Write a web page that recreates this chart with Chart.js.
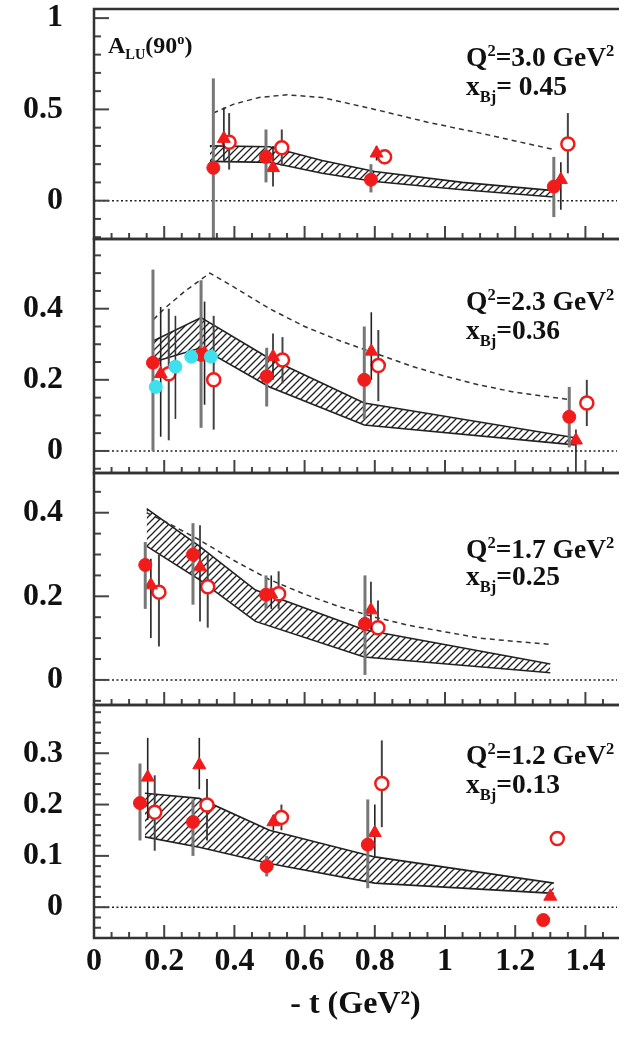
<!DOCTYPE html>
<html>
<head>
<meta charset="utf-8">
<script src="https://cdn.jsdelivr.net/npm/chart.js@4.4.1/dist/chart.umd.min.js"></script>
<style>
  html, body { margin: 0; padding: 0; background: #fff; }
  canvas { display: block; }
</style>
</head>
<body>
<canvas id="alu" width="626" height="1037"></canvas>
<script>
// x axis: -t (GeV^2)
const xTicks = [0, 0.2, 0.4, 0.6, 0.8, 1, 1.2, 1.4];
const xTickLabels = ['0', '0.2', '0.4', '0.6', '0.8', '1', '1.2', '1.4'];
const xMax = 1.49;

// y ranges of the four panels (top to bottom)
const yMin = [-0.21, -0.062, -0.06, -0.06];
const yMax = [1.05, 0.596, 0.495, 0.394];
const yMajor = [0.5, 0.2, 0.2, 0.1];
const yMinor = [0.1, 0.05, 0.05, 0.02];
const panelWeight = [230, 234, 232, 233];

// panel labels
const qLabels = ['3.0', '2.3', '1.7', '1.2'];
const xbjLabels = ['= 0.45', '=0.36', '=0.25', '=0.13'];

// ---- panel 1 : Q2 = 3.0, xBj = 0.45
const p1CircT = [0.34, 0.49, 0.789, 1.31];
const p1CircA = [0.18, 0.24, 0.115, 0.077];
const p1CircHi = [0.67, 0.39, 0.20, 0.24];
const p1CircLo = [-0.30, 0.10, 0.045, -0.09];
const p1TriT = [0.37, 0.51, 0.805, 1.33];
const p1TriA = [0.34, 0.18, 0.26, 0.115];
const p1TriHi = [0.51, 0.30, 0.30, 0.21];
const p1TriLo = [0.22, 0.077, 0.22, -0.05];
const p1OpenT = [0.385, 0.535, 0.828, 1.35];
const p1OpenA = [0.32, 0.29, 0.24, 0.31];
const p1OpenHi = [0.48, 0.39, 0.28, 0.48];
const p1OpenLo = [0.17, 0.19, 0.20, 0.15];
const p1BandT = [0.33, 0.5, 0.65, 0.8, 1.05, 1.31];
const p1BandHi = [0.30, 0.295, 0.22, 0.16, 0.10, 0.055];
const p1BandLo = [0.215, 0.21, 0.15, 0.105, 0.06, 0.02];
const p1ModelT = [0.34, 0.4, 0.47, 0.55, 0.65, 0.8, 0.95, 1.1, 1.31];
const p1ModelA = [0.48, 0.53, 0.565, 0.58, 0.565, 0.50, 0.43, 0.37, 0.28];

// ---- panel 2 : Q2 = 2.3, xBj = 0.36
const p2CircT = [0.168, 0.305, 0.492, 0.77, 1.354];
const p2CircA = [0.248, 0.27, 0.21, 0.20, 0.096];
const p2CircHi = [0.51, 0.48, 0.29, 0.35, 0.18];
const p2CircLo = [0.0, 0.065, 0.125, 0.09, 0.01];
const p2TriT = [0.19, 0.315, 0.51, 0.79, 1.373];
const p2TriA = [0.217, 0.275, 0.265, 0.28, 0.03];
const p2TriHi = [0.405, 0.42, 0.33, 0.39, 0.06];
const p2TriLo = [0.04, 0.13, 0.20, 0.20, -0.07];
const p2OpenT = [0.213, 0.341, 0.537, 0.81, 1.404];
const p2OpenA = [0.217, 0.20, 0.256, 0.24, 0.135];
const p2OpenHi = [0.40, 0.38, 0.32, 0.34, 0.20];
const p2OpenLo = [0.03, 0.06, 0.19, 0.14, 0.07];
const p2CyanT = [0.176, 0.232, 0.277, 0.333];
const p2CyanA = [0.18, 0.237, 0.265, 0.265];
const p2CyanHi = [0.18, 0.38, 0.265, 0.265];
const p2CyanLo = [0.18, 0.09, 0.265, 0.265];
const p2BandT = [0.17, 0.305, 0.5, 0.77, 1.37];
const p2BandHi = [0.31, 0.375, 0.26, 0.135, 0.037];
const p2BandLo = [0.25, 0.29, 0.18, 0.073, 0.017];
const p2ModelT = [0.17, 0.2, 0.26, 0.33, 0.4, 0.5, 0.6, 0.7, 0.8, 0.9, 1.0, 1.1, 1.2, 1.35];
const p2ModelA = [0.37, 0.40, 0.45, 0.50, 0.46, 0.40, 0.35, 0.31, 0.275, 0.24, 0.21, 0.185, 0.165, 0.145];

// ---- panel 3 : Q2 = 1.7, xBj = 0.25
const p3CircT = [0.146, 0.282, 0.49, 0.772];
const p3CircA = [0.275, 0.30, 0.204, 0.134];
const p3CircHi = [0.33, 0.375, 0.25, 0.25];
const p3CircLo = [0.17, 0.18, 0.17, 0.012];
const p3TriT = [0.162, 0.302, 0.505, 0.789];
const p3TriA = [0.227, 0.27, 0.205, 0.167];
const p3TriHi = [0.29, 0.37, 0.25, 0.235];
const p3TriLo = [0.10, 0.14, 0.17, 0.12];
const p3OpenT = [0.185, 0.324, 0.526, 0.809];
const p3OpenA = [0.21, 0.223, 0.206, 0.125];
const p3OpenHi = [0.30, 0.30, 0.26, 0.19];
const p3OpenLo = [0.08, 0.125, 0.17, 0.11];
const p3BandT = [0.15, 0.3, 0.46, 0.77, 1.3];
const p3BandHi = [0.41, 0.32, 0.215, 0.12, 0.038];
const p3BandLo = [0.32, 0.24, 0.14, 0.055, 0.017];
const p3ModelT = [0.15, 0.2, 0.3, 0.4, 0.5, 0.6, 0.7, 0.8, 0.9, 1.0, 1.1, 1.2, 1.3];
const p3ModelA = [0.40, 0.38, 0.335, 0.285, 0.24, 0.205, 0.175, 0.15, 0.13, 0.115, 0.10, 0.092, 0.085];

// ---- panel 4 : Q2 = 1.2, xBj = 0.13
const p4CircT = [0.131, 0.282, 0.492, 0.78, 1.28];
const p4CircA = [0.203, 0.166, 0.08, 0.122, -0.025];
const p4CircHi = [0.28, 0.21, 0.10, 0.21, -0.025];
const p4CircLo = [0.13, 0.10, 0.06, 0.037, -0.025];
const p4TriT = [0.153, 0.30, 0.511, 0.80, 1.30];
const p4TriA = [0.253, 0.277, 0.166, 0.145, 0.021];
const p4TriHi = [0.33, 0.33, 0.18, 0.20, 0.021];
const p4TriLo = [0.17, 0.23, 0.15, 0.10, 0.021];
const p4OpenT = [0.173, 0.322, 0.534, 0.82, 1.32];
const p4OpenA = [0.185, 0.199, 0.175, 0.241, 0.134];
const p4OpenHi = [0.257, 0.25, 0.20, 0.325, 0.134];
const p4OpenLo = [0.11, 0.13, 0.15, 0.156, 0.134];
const p4BandT = [0.145, 0.3, 0.5, 0.8, 1.31];
const p4BandHi = [0.222, 0.212, 0.15, 0.098, 0.047];
const p4BandLo = [0.137, 0.117, 0.085, 0.047, 0.027];

const RED = '#f01c1c';
const CYAN = '#3ee0ee';
const INK = '#111';
const SERIF = '"Liberation Serif", "DejaVu Serif", serif';

function pts(xs, ys) {
    return xs.map((x, i) => ({ x: x, y: ys[i] }));
}

const ctx = document.getElementById('alu').getContext('2d');

// hatched fill for the model band
function makeHatch() {
    const c = document.createElement('canvas');
    c.width = 7; c.height = 7;
    const g = c.getContext('2d');
    g.strokeStyle = '#222';
    g.lineWidth = 1.3;
    g.beginPath();
    g.moveTo(0, 7); g.lineTo(7, 0);
    g.moveTo(-1, 1); g.lineTo(1, -1);
    g.moveTo(6, 8); g.lineTo(8, 6);
    g.stroke();
    return ctx.createPattern(c, 'repeat');
}
const hatchFill = makeHatch();

function markerSet(axis, t, a, lo, hi, kind) {
    const ds = { yAxisID: axis, data: pts(t, a), showLine: false, order: 1, errLo: lo, errHi: hi, pointHoverRadius: 0 };
    if (kind === 'full') Object.assign(ds, { pointStyle: 'circle', pointRadius: 6.5, backgroundColor: RED, borderColor: RED, borderWidth: 1, errColor: '#777', errWidth: 3 });
    if (kind === 'tri') Object.assign(ds, { pointStyle: 'triangle', pointRadius: 7.5, backgroundColor: RED, borderColor: RED, borderWidth: 1, errColor: '#222', errWidth: 1.6 });
    if (kind === 'open') Object.assign(ds, { pointStyle: 'circle', pointRadius: 6.5, backgroundColor: '#fff', borderColor: RED, borderWidth: 2.5, errColor: '#444', errWidth: 2 });
    if (kind === 'cyan') Object.assign(ds, { pointStyle: 'circle', pointRadius: 6.5, backgroundColor: CYAN, borderColor: CYAN, borderWidth: 1, errColor: '#333', errWidth: 1.6 });
    return ds;
}

function bandSets(axis, t, hi, lo) {
    return [
        { yAxisID: axis, data: pts(t, hi), fill: '+1', backgroundColor: hatchFill, borderColor: '#222', borderWidth: 1.6, pointRadius: 0, order: 3 },
        { yAxisID: axis, data: pts(t, lo), fill: false, borderColor: '#222', borderWidth: 1.6, pointRadius: 0, order: 3 }
    ];
}

function modelSet(axis, t, a) {
    return { yAxisID: axis, data: pts(t, a), fill: false, borderColor: '#333', borderWidth: 1.5, borderDash: [5, 4], pointRadius: 0, order: 2 };
}

const datasets = [
    markerSet('y1', p1CircT, p1CircA, p1CircLo, p1CircHi, 'full'),
    markerSet('y1', p1TriT, p1TriA, p1TriLo, p1TriHi, 'tri'),
    markerSet('y1', p1OpenT, p1OpenA, p1OpenLo, p1OpenHi, 'open'),
    modelSet('y1', p1ModelT, p1ModelA),
    ...bandSets('y1', p1BandT, p1BandHi, p1BandLo),

    markerSet('y2', p2CyanT, p2CyanA, p2CyanLo, p2CyanHi, 'cyan'),
    markerSet('y2', p2CircT, p2CircA, p2CircLo, p2CircHi, 'full'),
    markerSet('y2', p2TriT, p2TriA, p2TriLo, p2TriHi, 'tri'),
    markerSet('y2', p2OpenT, p2OpenA, p2OpenLo, p2OpenHi, 'open'),
    modelSet('y2', p2ModelT, p2ModelA),
    ...bandSets('y2', p2BandT, p2BandHi, p2BandLo),

    markerSet('y3', p3CircT, p3CircA, p3CircLo, p3CircHi, 'full'),
    markerSet('y3', p3TriT, p3TriA, p3TriLo, p3TriHi, 'tri'),
    markerSet('y3', p3OpenT, p3OpenA, p3OpenLo, p3OpenHi, 'open'),
    modelSet('y3', p3ModelT, p3ModelA),
    ...bandSets('y3', p3BandT, p3BandHi, p3BandLo),

    markerSet('y4', p4CircT, p4CircA, p4CircLo, p4CircHi, 'full'),
    markerSet('y4', p4TriT, p4TriA, p4TriLo, p4TriHi, 'tri'),
    markerSet('y4', p4OpenT, p4OpenA, p4OpenLo, p4OpenHi, 'open'),
    ...bandSets('y4', p4BandT, p4BandHi, p4BandLo)
];

// text with sub/superscripts
function rich(c, x, y, segs, size) {
    segs.forEach(s => {
        const small = s.sup || s.sub;
        c.font = 'bold ' + (small ? size * 0.6 : size) + 'px ' + SERIF;
        const dy = s.sup ? -size * 0.38 : (s.sub ? size * 0.25 : 0);
        c.fillText(s.t, x, y + dy);
        x += c.measureText(s.t).width;
    });
}

const labelX = 466;
const qOffset = [57, 71, 85, 59];
const xOffset = [86, 100, 112, 88];

const panelDecor = {
    id: 'panelDecor',
    beforeDatasetsDraw(chart) {
        const c = chart.ctx, area = chart.chartArea;
        c.save();
        c.strokeStyle = '#222';
        c.lineWidth = 1.5;
        c.setLineDash([2, 2.5]);
        for (let i = 1; i <= 4; i++) {
            const y = chart.scales['y' + i].getPixelForValue(0);
            c.beginPath();
            c.moveTo(area.left, y);
            c.lineTo(area.right, y);
            c.stroke();
        }
        c.restore();
    },
    beforeDatasetDraw(chart, args) {
        const ds = chart.data.datasets[args.index];
        if (!ds.errHi) return;
        const xs = args.meta.xScale, ys = args.meta.yScale, c = chart.ctx;
        c.save();
        c.beginPath();
        c.rect(chart.chartArea.left, ys.top, chart.chartArea.right - chart.chartArea.left, ys.bottom - ys.top);
        c.clip();
        c.strokeStyle = ds.errColor;
        c.lineWidth = ds.errWidth;
        ds.data.forEach((p, i) => {
            if (ds.errHi[i] === ds.errLo[i]) return;
            const x = xs.getPixelForValue(p.x);
            c.beginPath();
            c.moveTo(x, ys.getPixelForValue(ds.errHi[i]));
            c.lineTo(x, ys.getPixelForValue(ds.errLo[i]));
            c.stroke();
        });
        c.restore();
    },
    afterDraw(chart) {
        const c = chart.ctx, area = chart.chartArea, xs = chart.scales.x;
        c.save();
        for (let i = 0; i < 4; i++) {
            const ys = chart.scales['y' + (i + 1)];
            // inner tick marks, left edge
            c.strokeStyle = '#444';
            c.lineWidth = 2;
            const n0 = Math.ceil(yMin[i] / yMinor[i] - 1e-6);
            const n1 = Math.floor(yMax[i] / yMinor[i] + 1e-6);
            for (let n = n0; n <= n1; n++) {
                const v = n * yMinor[i];
                const r = v / yMajor[i];
                const major = Math.abs(r - Math.round(r)) < 1e-6;
                const y = ys.getPixelForValue(v);
                c.beginPath();
                c.moveTo(area.left, y);
                c.lineTo(area.left + (major ? 15 : 7), y);
                c.stroke();
            }
            // inner tick marks, bottom edge
            for (let n = 0; n * 0.05 <= xMax; n++) {
                const x = xs.getPixelForValue(n * 0.05);
                const len = n % 4 === 0 ? 13 : 6;
                c.beginPath();
                c.moveTo(x, ys.bottom);
                c.lineTo(x, ys.bottom - len);
                c.stroke();
            }
            // frame
            c.strokeStyle = '#333';
            c.lineWidth = 2.5;
            c.beginPath();
            c.moveTo(area.right + 2, ys.top);
            c.lineTo(area.left, ys.top);
            c.lineTo(area.left, ys.bottom);
            c.lineTo(area.right + 2, ys.bottom);
            c.stroke();

            // panel labels
            c.fillStyle = INK;
            c.textAlign = 'left';
            c.textBaseline = 'alphabetic';
            rich(c, labelX, ys.top + qOffset[i], [{ t: 'Q' }, { t: '2', sup: true }, { t: '=' + qLabels[i] + ' GeV' }, { t: '2', sup: true }], 27.5);
            rich(c, labelX, ys.top + xOffset[i], [{ t: 'x' }, { t: 'Bj', sub: true }, { t: xbjLabels[i] }], 27.5);
        }
        const top = chart.scales.y1;
        rich(c, 108, top.top + 44, [{ t: 'A' }, { t: 'LU', sub: true }, { t: '(90' }, { t: 'o', sup: true }, { t: ')' }], 24);
        c.restore();
    }
};

const tickFont = { family: SERIF, size: 32, weight: 'bold' };

const scales = {
    x: {
        type: 'linear', position: 'bottom', min: 0, max: xMax,
        grid: { display: false, drawTicks: false },
        border: { display: false },
        ticks: {
            stepSize: 0.2, includeBounds: false, autoSkip: false, maxRotation: 0, padding: 5,
            color: INK, font: tickFont,
            callback: v => {
                const k = xTicks.findIndex(t => Math.abs(t - v) < 1e-6);
                return k < 0 ? '' : xTickLabels[k];
            }
        },
        title: { display: true, text: '- t (GeV²)', color: INK, font: tickFont, padding: { top: 0, bottom: 13 } },
        afterFit: s => {
            s.height = 99;
            s.paddingLeft = 0; s.paddingRight = 0;
        }
    }
};
yMin.forEach((mn, i) => {
    scales['y' + (i + 1)] = {
        type: 'linear', position: 'left', stack: 'panels', stackWeight: panelWeight[i], weight: 4 - i,
        min: mn, max: yMax[i],
        grid: { display: false, drawTicks: false },
        border: { display: false },
        ticks: {
            stepSize: yMajor[i], includeBounds: false, padding: 31, color: INK, font: tickFont,
            callback: v => String(Math.round(v * 100) / 100)
        },
        afterFit: s => {
            s.width = 94;
            s.paddingTop = 0; s.paddingBottom = 0;
        }
    };
});

new Chart(ctx, {
    type: 'line',
    data: { datasets: datasets },
    options: {
        responsive: false,
        animation: false,
        devicePixelRatio: 1,
        layout: { padding: { top: 9, left: 0, right: 0, bottom: 0 } },
        plugins: { legend: { display: false }, tooltip: { enabled: false } },
        scales: scales
    },
    plugins: [panelDecor]
});
</script>
</body>
</html>
